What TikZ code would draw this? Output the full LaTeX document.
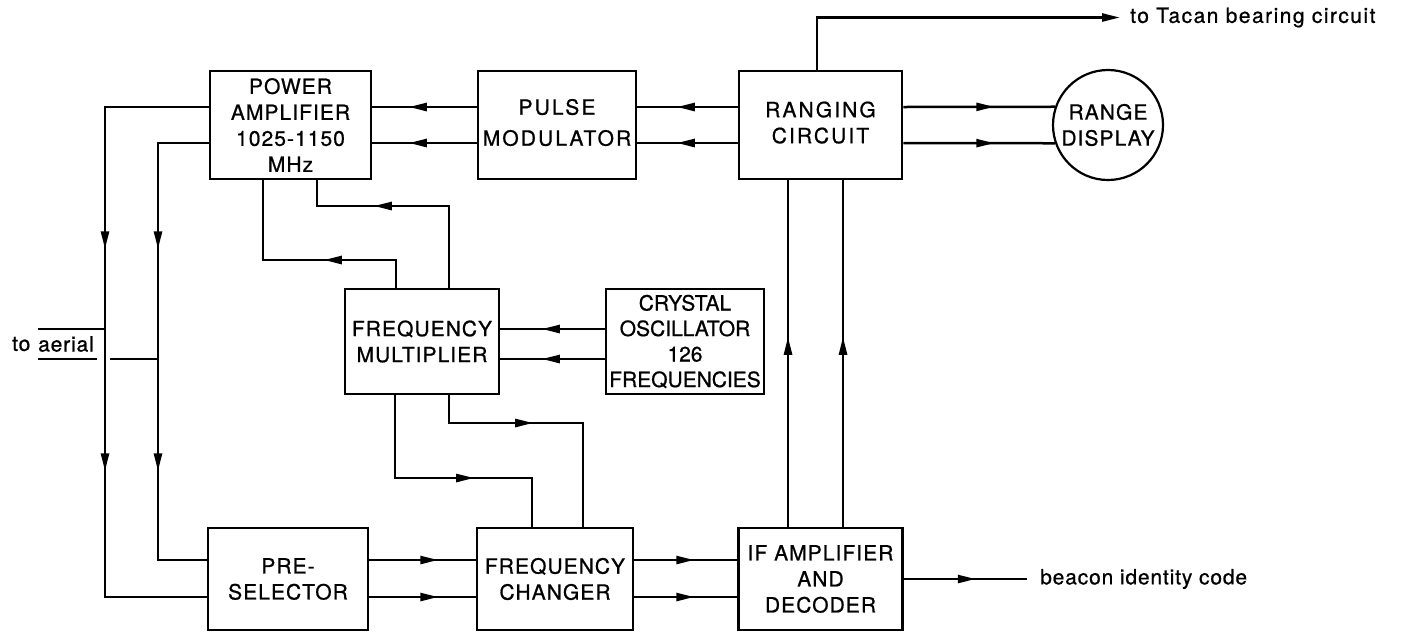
\documentclass[tikz,border=0pt]{standalone}
\usepackage{fontspec}
\setmainfont[FakeBold=0.8]{TeX Gyre Heros}
\newfontfamily\capfont[LetterSpace=5,FakeBold=0.8]{TeX Gyre Heros}
\newfontfamily\widecapfont[LetterSpace=10,FakeBold=0.8]{TeX Gyre Heros}
\newfontfamily\lowfont[LetterSpace=4,FakeBold=0.8]{TeX Gyre Heros}
\newfontfamily\widelowfont[LetterSpace=7,FakeBold=0.8]{TeX Gyre Heros}
\usetikzlibrary{arrows.meta,decorations.markings,calc}
\tikzset{
  >={Triangle[length=18pt,width=8pt]},
  wire/.style={line width=2.5pt, line join=miter},
  blk/.style={draw, line width=2.5pt, inner sep=0pt, align=center,
    font=\capfont\fontsize{21}{26}\selectfont},
  lbl/.style={inner sep=0pt, font=\lowfont\fontsize{21}{26}\selectfont},
  marr/.style={postaction={decorate,decoration={markings,
    mark=at position #1 with {\arrow{>}}}}},
}
\begin{document}
\begin{tikzpicture}[x=1pt,y=-1pt]
\useasboundingbox (0,0) rectangle (1404,633);

% blocks
\node[blk, minimum width=161pt, minimum height=108pt] (PA) at (290.5,125) {POWER\\AMPLIFIER\\1025-1150\\MHz};
\node[blk, minimum width=158pt, minimum height=108pt, font=\widecapfont\fontsize{21}{26}\selectfont] (PM) at (557,125)
  {\raisebox{7pt}{\begin{tabular}{@{}c@{}}PULSE\\[5pt]MODULATOR\end{tabular}}};
\node[blk, minimum width=163pt, minimum height=108pt, font=\widecapfont\fontsize{21}{26}\selectfont] (RC) at (820.5,125)
  {\raisebox{8pt}{\begin{tabular}{@{}c@{}}RANGING\\CIRCUIT\end{tabular}}};
\node[blk, circle, minimum size=110pt, line width=2.2pt] (RD) at (1108,125) {RANGE\\DISPLAY};
\node[blk, minimum width=154pt, minimum height=105pt] (FM) at (422,341.5) {FREQUENCY\\MULTIPLIER};
\node[blk, minimum width=158pt, minimum height=105pt, font=\fontsize{21}{25.5}\selectfont] (CO) at (685,341.5)
  {CRYSTAL\\OSCILLATOR\\126\\FREQUENCIES};
\node[blk, minimum width=160pt, minimum height=102pt] (PS) at (288,579) {PRE-\\SELECTOR};
\node[blk, minimum width=156pt, minimum height=102pt] (FC) at (555,579) {FREQUENCY\\CHANGER};
\node[blk, minimum width=164pt, minimum height=102pt] (IF) at (820.5,579) {IF AMPLIFIER\\AND\\DECODER};

% free labels
\node[lbl, anchor=west, font=\widelowfont\fontsize{21}{26}\selectfont] (tacan) at (1130,17.5) {to Tacan bearing circuit};
\node[lbl, anchor=west] (beacon) at (1040,579) {beacon identity code};
\node[lbl, anchor=west] (toa) at (12,344) {to};
\node[lbl, anchor=west, minimum height=30pt] (aer) at (38,344) {aerial};

% routing points
\coordinate (la) at (105,350);
\coordinate (lb) at (158,350);
\coordinate (ua) at (263,260);
\coordinate (ub) at (317,206);
\coordinate (da) at (395,478);
\coordinate (db) at (449,423);

% aerial feed lines
\draw[wire, marr=246pt, marr=468pt] ([yshift=18pt]PA.west) -| (la) |- ([yshift=-18pt]PS.west);
\draw[wire, marr=157pt, marr=379pt] ([yshift=-18pt]PA.west) -| (lb) |- ([yshift=19pt]PS.west);
\draw[wire] (aer.north west) -- (aer.north west -| la);
\draw[wire] (aer.south west) -- ([xshift=-8pt]aer.south west -| la);
\draw[wire] ([xshift=5pt]aer.south west -| la) -- (aer.south west -| lb);

% pulse chain
\draw[wire, marr=68pt] ([yshift=18pt]PM.west) -- ([yshift=18pt]PA.east);
\draw[wire, marr=68pt] ([yshift=-18pt]PM.west) -- ([yshift=-18pt]PA.east);
\draw[wire, marr=61pt] ([yshift=18pt]RC.west) -- ([yshift=18pt]PM.east);
\draw[wire, marr=61pt] ([yshift=-18pt]RC.west) -- ([yshift=-18pt]PM.east);
\draw[wire, marr=91pt] ([yshift=18pt]RC.east) -- (RD.161);
\draw[wire, marr=91pt] ([yshift=-18pt]RC.east) -- (RD.199);
\draw[wire, ->, shorten >=10pt] ([xshift=-3.5pt]RC.north) |- (tacan.west);

% multiplier to power amplifier
\draw[wire, marr=100pt] ([xshift=-26pt]FM.north) |- (ua) -- ([xshift=-27.5pt]PA.south);
\draw[wire, marr=157pt] ([xshift=27pt]FM.north) |- (ub) -- ([xshift=26.5pt]PA.south);

% crystal oscillator to multiplier
\draw[wire, marr=63pt] ([yshift=12.5pt]CO.west) -- ([yshift=12.5pt]FM.east);
\draw[wire, marr=63pt] ([yshift=-17.5pt]CO.west) -- ([yshift=-17.5pt]FM.east);

% multiplier to frequency changer
\draw[wire, marr=162pt] ([xshift=-27pt]FM.south) |- (da) -| ([xshift=-23pt]FC.north);
\draw[wire, marr=112pt] ([xshift=27pt]FM.south) |- (db) -| ([xshift=28pt]FC.north);

% receive chain
\draw[wire, marr=69pt] ([yshift=19pt]PS.east) -- ([yshift=19pt]FC.west);
\draw[wire, marr=69pt] ([yshift=-18pt]PS.east) -- ([yshift=-18pt]FC.west);
\draw[wire, marr=60pt] ([yshift=19pt]FC.east) -- ([yshift=19pt]IF.west);
\draw[wire, marr=60pt] ([yshift=-18pt]FC.east) -- ([yshift=-18pt]IF.west);
\draw[wire, marr=190pt] ([xshift=-32.5pt]IF.north) -- ([xshift=-32.5pt]RC.south);
\draw[wire, marr=190pt] ([xshift=22.5pt]IF.north) -- ([xshift=22.5pt]RC.south);
\draw[wire, marr=72pt, shorten >=13pt] (IF.east) -- (beacon.west);
\end{tikzpicture}
\end{document}
